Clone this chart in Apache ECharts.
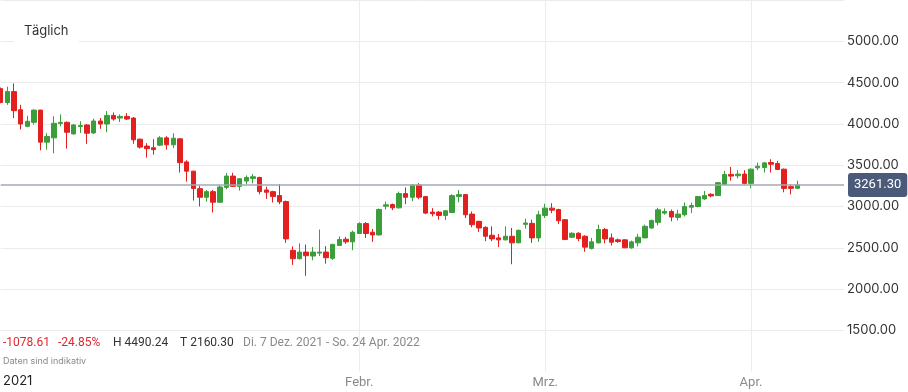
<!DOCTYPE html>
<html>
<head>
<meta charset="utf-8">
<script src="https://cdn.jsdelivr.net/npm/echarts@6/dist/echarts.min.js"></script>
<style>
html,body{margin:0;padding:0;background:#fff;}
#c{width:908px;height:392px;}
</style>
</head>
<body>
<div id="c"></div>
<script>
// ---- data (daily candles from 2021-12-09) ----
const startDate = '2021-12-09';
const totalSlots = 128; // visible category slots on the axis
const opens = [4427,4259,4391,4171,3971,4019,4167,3779,3831,4005,4019,3879,3968,3987,3891,4035,3999,4103,4071,4091,
  4071,3815,3731,3711,3743,3831,3747,3819,3540,3428,3216,3112,3180,3052,3232,3368,3244,3308,3340,3352,
  3200,3180,3132,3060,2469,2368,2448,2400,2436,2448,2373,2529,2604,2572,2673,2793,2688,2656,3004,3024,
  2984,3156,3112,3260,3120,2932,2932,2892,2928,3120,3144,2908,2820,2748,2652,2620,2596,2640,2560,2784,
  2796,2620,2892,2980,2964,2840,2628,2676,2640,2493,2560,2721,2620,2596,2596,2500,2560,2620,2740,2808,
  2920,2940,2868,2900,2992,3000,3092,3148,3132,3268,3388,3372,3392,3280,3468,3472,3532,3520,3452,3240,3220];
const closes = [4259,4391,4160,3999,4031,4167,3779,3848,4007,4019,3899,3987,3980,3887,4035,3999,4103,4059,4091,4059,
  3807,3719,3700,3688,3831,3747,3827,3531,3428,3219,3112,3180,3052,3236,3368,3244,3336,3352,3360,3180,
  3172,3120,3056,2608,2368,2448,2404,2448,2448,2380,2541,2601,2572,2688,2793,2673,2656,2964,3020,2984,
  3156,3112,3260,3112,2920,2912,2892,2948,3132,3144,2900,2780,2740,2640,2608,2596,2640,2560,2712,2800,
  2620,2900,2980,2956,2828,2601,2676,2612,2508,2572,2721,2608,2568,2576,2500,2572,2628,2760,2832,2960,
  2940,2872,2908,3000,3012,3120,3132,3128,3288,3388,3368,3392,3280,3452,3488,3528,3512,3448,3219,3220,3261.3];
const lows = [4250,4231,4071,3932,3960,3992,3680,3688,3644,3971,3700,3870,3891,3759,3880,3940,3899,4039,4023,4047,
  3759,3700,3591,3627,3731,3688,3707,3411,3300,3072,3000,3060,2928,3045,3208,3236,3192,3268,3280,3148,
  3092,3048,3028,2560,2293,2360,2160.3,2349,2400,2308,2353,2520,2548,2472,2670,2620,2572,2650,2964,2956,
  2976,3028,3064,3088,2908,2880,2840,2836,2920,3052,2860,2748,2692,2580,2580,2508,2590,2301,2556,2733,
  2560,2572,2860,2920,2788,2592,2620,2580,2452,2480,2552,2553,2528,2560,2496,2488,2516,2616,2730,2772,
  2900,2820,2832,2880,2920,2990,3080,3112,3128,3260,3312,3340,3268,3220,3440,3412,3412,3440,3172,3148,3215];
const highs = [4440,4451,4490.24,4231,4099,4175,4171,3887,4091,4115,4030,3999,4031,3999,4063,4071,4155,4139,4115,4131,
  4083,3823,3767,3815,3851,3851,3887,3827,3560,3432,3252,3200,3200,3260,3404,3408,3344,3376,3392,3360,
  3240,3190,3272,3072,2516,2553,2540,2508,2721,2520,2549,2637,2632,2708,2808,2812,2728,2976,3060,3036,
  3180,3232,3270,3284,3128,2980,2944,2956,3148,3200,3150,2940,2828,2760,2760,2668,2760,2740,2720,2852,
  2840,2948,3032,3040,2972,2848,2688,2688,2652,2620,2780,2740,2673,2612,2604,2588,2668,2780,2840,2984,
  2976,2964,2960,3048,3048,3128,3188,3160,3296,3432,3480,3440,3440,3460,3532,3540,3572,3552,3460,3268,3312];
const tickDates = ['2022-02-01','2022-03-01','2022-04-01'];
const tickLabels = ['Febr.','Mrz.','Apr.'];
const yTicks = [1500,2000,2500,3000,3500,4000,4500,5000];
const statTexts = ['-1078.61','-24.85%','H 4490.24','T 2160.30','Di. 7 Dez. 2021 - So. 24 Apr. 2022'];

// ---- build categories ----
function fmt(d){const m=d.getUTCMonth()+1, dd=d.getUTCDate();return d.getUTCFullYear()+'-'+(m<10?'0':'')+m+'-'+(dd<10?'0':'')+dd;}
const dates = [];
{const d0 = new Date(startDate+'T00:00:00Z');
 for(let i=0;i<totalSlots;i++){dates.push(fmt(new Date(d0.getTime()+i*86400000)));}}
const candles = dates.map((d,i)=> i<opens.length ? [opens[i],closes[i],lows[i],highs[i]] : '-');
const lastClose = closes[closes.length-1];

const GREEN='#3a9e3a', RED='#e2201f';
const FONT='Inter, "Noto Sans", sans-serif';
const FONT2='Roboto, "Liberation Sans", sans-serif';

const chart = echarts.init(document.getElementById('c'), null, {renderer:'canvas'});
chart.setOption({
  animation:false,
  backgroundColor:'#fff',
  title:{text:'Täglich', left:14, top:24, padding:[1,10,5,10], backgroundColor:'#fff',
    textStyle:{fontFamily:FONT, fontSize:13, fontWeight:'normal', color:'#333'}},
  grid:{left:0.7, right:64, top:-3.4, bottom:20.3, containLabel:false},
  xAxis:{type:'category', data:dates, boundaryGap:false,
    axisLine:{show:false}, axisTick:{show:false},
    axisLabel:{interval:(i,v)=>tickDates.includes(v), formatter:v=>{const k=tickDates.indexOf(v);return k>=0?tickLabels[k]:'';},
      color:'#8a8a8a', fontFamily:FONT2, fontSize:13, margin:5},
    splitLine:{show:true, interval:(i,v)=>tickDates.includes(v), lineStyle:{color:'#ececec', width:1}}
  },
  yAxis:{type:'value', position:'right', min:1000, max:5500, interval:500, scale:false,
    axisLine:{show:false}, axisTick:{show:false},
    axisLabel:{formatter:v=>yTicks.includes(v)?v.toFixed(2):'', color:'#333', fontFamily:FONT, fontSize:13, margin:3},
    splitLine:{show:true, lineStyle:{color:['rgba(0,0,0,0)','#ebebeb','#ebebeb','#ebebeb','#ebebeb','#ebebeb','#ebebeb','#ebebeb','#ebebeb','#ebebeb'], width:1}}
  },
  series:[{
    type:'candlestick', data:candles, barWidth:5, clip:false,
    itemStyle:{color:GREEN, color0:RED, borderColor:GREEN, borderColor0:RED, borderWidth:1},
    markLine:{symbol:['none','none'], silent:true, animation:false,
      lineStyle:{color:'#a3a8b5', width:1.5, type:'solid'},
      label:{position:'end', distance:4, formatter:p=>Number(p.value).toFixed(2),
        color:'#fff', backgroundColor:'#4b5a79', borderRadius:3, padding:[6,6,5,6],
        fontFamily:FONT2, fontSize:13},
      data:[{yAxis:lastClose}]}
  }],
  graphic:[
    {type:'text', left:3, top:337, style:{text:statTexts[0], fill:'#e0282e', font:'12px '+FONT2}},
    {type:'text', left:58, top:337, style:{text:statTexts[1], fill:'#e0282e', font:'12px '+FONT2}},
    {type:'text', left:113, top:337, style:{text:statTexts[2], fill:'#333', font:'12px '+FONT2}},
    {type:'text', left:180, top:337, style:{text:statTexts[3], fill:'#333', font:'12px '+FONT2}},
    {type:'text', left:243, top:337, style:{text:statTexts[4], fill:'#8a8a8a', font:'12px '+FONT2}},
    {type:'text', left:3, top:357, style:{text:'Daten sind indikativ', fill:'#8a8a8a', font:'9px '+FONT}},
    {type:'text', left:3, top:375, style:{text:'2021', fill:'#222', font:'13px '+FONT}}
  ]
});
</script>
</body>
</html>
